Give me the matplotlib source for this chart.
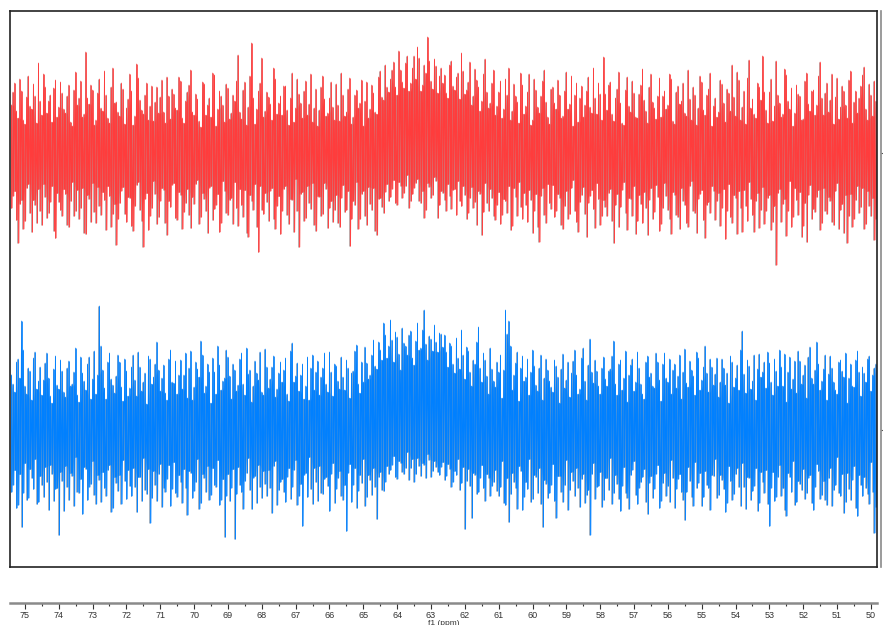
import numpy as np
import matplotlib
matplotlib.use("Agg")
import matplotlib.pyplot as plt
from matplotlib.ticker import MultipleLocator, FixedLocator, FuncFormatter

# chemical shift grid (ppm): bins every 0.1 ppm, with a second reading half a bin later
ppm_start, ppm_step, n_bins = 75.4, 0.1, 256

# red spectrum: upper / lower noise extents (intensity above / below its baseline)
# "_a" at 75.4, 75.3, ... ; "_b" at 75.35, 75.25, ...
red_hi_a = [48, 70, 35, 62, 29, 77, 44, 57, 90, 38, 66, 52, 31, 73, 46, 60,
            40, 68, 27, 81, 55, 36, 101, 49, 63, 33, 74, 42, 58, 30, 85, 51,
            37, 64, 45, 79, 28, 89, 53, 39, 70, 47, 32, 66, 56, 41, 76, 34,
            59, 43, 72, 30, 61, 83, 38, 54, 26, 69, 48, 36, 78, 44, 57, 31,
            65, 40, 52, 98, 34, 71, 46, 110, 29, 62, 95, 42, 56, 33, 74, 50,
            38, 67, 28, 80, 45, 59, 35, 72, 49, 31, 64, 43, 77, 37, 55, 46,
            69, 32, 58, 41, 75, 36, 63, 50, 27, 71, 44, 60, 39, 82, 53, 66,
            74, 91, 58, 83, 65, 97, 70, 97, 106, 62, 88, 116, 72, 94, 60, 85,
            78, 55, 92, 63, 80, 100, 59, 71, 48, 84, 66, 52, 94, 45, 70, 38,
            61, 35, 74, 85, 42, 57, 30, 68, 47, 79, 33, 63, 40, 72, 51, 29,
            66, 44, 58, 37, 81, 49, 27, 70, 55, 36, 62, 46, 85, 39, 59, 96,
            43, 71, 32, 64, 50, 28, 76, 41, 60, 35, 68, 53, 30, 79, 45, 57,
            36, 62, 48, 74, 29, 67, 52, 40, 83, 33, 58, 45, 71, 38, 64, 27,
            55, 41, 69, 31, 60, 88, 37, 73, 46, 29, 93, 54, 35, 66, 97, 43,
            61, 32, 92, 50, 39, 78, 44, 27, 68, 57, 34, 80, 42, 63, 48, 91,
            38, 70, 53, 29, 75, 46, 62, 35, 82, 51, 40, 67, 86, 33, 58, 72]
red_hi_b = [61, 42, 74, 33, 56, 47, 69, 30, 52, 79, 40, 58, 65, 36, 71, 44,
            57, 31, 63, 48, 72, 39, 55, 68, 28, 60, 45, 82, 35, 66, 50, 41,
            70, 29, 54, 62, 37, 75, 43, 58, 33, 67, 51, 40, 73, 30, 57, 64,
            45, 76, 35, 52, 68, 41, 59, 32, 71, 38, 55, 80, 27, 62, 48, 69,
            34, 58, 72, 41, 63, 28, 77, 55, 44, 70, 36, 61, 49, 85, 39, 57,
            67, 43, 55, 31, 74, 50, 62, 38, 79, 45, 27, 66, 54, 40, 71, 33,
            48, 80, 37, 64, 29, 58, 45, 73, 52, 35, 68, 41, 76, 56, 88, 61,
            83, 66, 102, 71, 90, 62, 85, 74, 95, 68, 80, 92, 64, 87, 77, 70,
            60, 88, 67, 76, 54, 82, 63, 91, 57, 73, 42, 79, 61, 50, 83, 47,
            72, 44, 58, 33, 69, 51, 80, 39, 61, 28, 74, 46, 57, 83, 36, 64,
            50, 73, 35, 62, 44, 77, 58, 31, 67, 48, 76, 40, 55, 70, 33, 59,
            68, 39, 55, 81, 30, 63, 47, 72, 36, 59, 84, 42, 66, 51, 34, 75,
            57, 44, 79, 32, 61, 49, 70, 37, 54, 66, 28, 77, 43, 58, 80, 47,
            36, 73, 50, 64, 42, 56, 81, 33, 62, 75, 45, 39, 70, 53, 61, 30,
            74, 47, 58, 36, 84, 52, 65, 40, 59, 33, 72, 49, 62, 38, 77, 55,
            60, 41, 79, 56, 34, 67, 48, 73, 30, 62, 55, 78, 44, 69, 37, 52]
red_lo_a = [55, 38, 90, 47, 68, 31, 79, 52, 36, 72, 44, 60, 33, 85, 49, 63,
            41, 74, 29, 58, 66, 35, 81, 46, 30, 70, 53, 39, 77, 43, 61, 92,
            50, 34, 69, 45, 78, 32, 57, 94, 40, 63, 28, 71, 48, 37, 82, 54,
            30, 67, 42, 59, 36, 75, 51, 27, 64, 46, 80, 33, 56, 41, 70, 38,
            62, 45, 29, 73, 52, 37, 84, 48, 31, 99, 57, 40, 68, 35, 76, 43,
            58, 33, 71, 47, 26, 94, 39, 65, 50, 30, 78, 44, 61, 36, 55, 69,
            42, 74, 32, 57, 93, 48, 29, 66, 38, 72, 51, 35, 82, 45, 60, 31,
            44, 27, 52, 33, 40, 22, 48, 35, 26, 50, 65, 30, 45, 24, 65, 38,
            47, 31, 56, 36, 28, 53, 42, 60, 34, 49, 38, 82, 30, 58, 45, 67,
            39, 62, 48, 33, 73, 44, 29, 66, 52, 37, 80, 41, 89, 35, 70, 50,
            32, 58, 45, 76, 38, 61, 27, 69, 49, 34, 84, 43, 56, 30, 72, 47,
            63, 36, 90, 41, 54, 29, 77, 46, 33, 68, 51, 39, 82, 35, 59, 44,
            71, 30, 57, 81, 42, 64, 35, 52, 74, 28, 60, 46, 37, 85, 49, 33,
            67, 40, 55, 86, 31, 70, 45, 38, 79, 53, 29, 62, 48, 75, 34, 58,
            42, 69, 112, 36, 51, 83, 28, 64, 47, 39, 73, 89, 32, 56, 44, 77,
            35, 61, 48, 72, 30, 57, 80, 90, 41, 66, 33, 54, 76, 38, 63, 87]
red_lo_b = [43, 67, 51, 76, 35, 60, 47, 70, 58, 31, 65, 49, 78, 40, 57, 36,
            72, 48, 63, 37, 55, 80, 42, 69, 59, 34, 62, 47, 33, 74, 51, 66,
            38, 61, 44, 73, 53, 29, 68, 46, 77, 55, 41, 64, 35, 70, 48, 32,
            65, 39, 76, 50, 62, 44, 31, 71, 40, 58, 35, 67, 52, 79, 28, 60,
            47, 71, 55, 36, 64, 80, 42, 57, 74, 33, 61, 49, 38, 66, 53, 81,
            36, 62, 46, 79, 58, 41, 68, 33, 56, 72, 43, 63, 30, 75, 48, 57,
            70, 45, 59, 38, 66, 52, 76, 41, 63, 34, 57, 78, 46, 54, 39, 48,
            36, 50, 29, 45, 33, 55, 41, 30, 48, 38, 57, 34, 42, 28, 52, 40,
            58, 43, 37, 62, 48, 33, 66, 45, 55, 72, 41, 59, 50, 36, 63, 52,
            71, 46, 60, 77, 35, 63, 54, 40, 69, 47, 58, 74, 43, 62, 31, 56,
            64, 41, 72, 53, 66, 35, 58, 79, 42, 61, 50, 37, 75, 46, 63, 54,
            40, 68, 52, 74, 37, 60, 45, 63, 81, 42, 70, 55, 47, 66, 32, 78,
            55, 43, 66, 39, 62, 76, 48, 70, 33, 58, 80, 41, 67, 52, 60, 38,
            48, 73, 36, 58, 64, 42, 81, 55, 37, 68, 46, 79, 40, 57, 71, 45,
            77, 53, 40, 69, 46, 58, 74, 35, 62, 84, 50, 42, 66, 59, 37, 70,
            58, 44, 69, 38, 76, 51, 42, 63, 74, 47, 60, 35, 71, 53, 45, 66]

# blue spectrum
blue_hi_a = [55, 38, 71, 109, 44, 62, 30, 78, 49, 35, 67, 52, 27, 74, 41, 59,
             33, 69, 46, 82, 28, 57, 40, 73, 51, 36, 124, 60, 31, 77, 45, 54,
             68, 29, 59, 42, 75, 34, 63, 48, 26, 71, 53, 88, 39, 65, 30, 80,
             47, 36, 70, 55, 32, 79, 43, 61, 89, 37, 66, 27, 58, 84, 40, 52,
             73, 31, 60, 45, 77, 35, 56, 28, 69, 50, 38, 81, 42, 63, 33, 57,
             48, 72, 29, 87, 54, 39, 66, 44, 30, 75, 58, 35, 62, 46, 78, 34,
             64, 41, 53, 70, 32, 59, 85, 37, 48, 67, 55, 90, 61, 80, 107, 72,
             110, 68, 93, 60, 87, 75, 99, 65, 107, 82, 120, 70, 91, 105, 78, 96,
             95, 63, 84, 57, 72, 100, 51, 79, 44, 66, 103, 48, 70, 36, 61, 43,
             58, 32, 120, 109, 40, 67, 29, 74, 53, 35, 80, 45, 62, 30, 71, 49,
             38, 64, 27, 76, 50, 33, 69, 55, 41, 82, 30, 91, 47, 59, 36, 73,
             44, 61, 89, 35, 70, 52, 28, 65, 39, 78, 46, 31, 74, 57, 42, 68,
             29, 77, 48, 36, 66, 54, 31, 81, 43, 60, 35, 72, 50, 84, 38, 63,
             56, 33, 71, 45, 27, 68, 52, 40, 99, 37, 64, 49, 30, 76, 58, 42,
             67, 35, 59, 80, 44, 28, 73, 51, 37, 69, 55, 32, 83, 46, 88, 40,
             61, 30, 74, 48, 36, 70, 53, 27, 66, 43, 79, 34, 57, 71, 39, 62]
blue_hi_b = [46, 68, 52, 80, 36, 59, 72, 41, 63, 50, 77, 34, 61, 45, 70, 38,
             62, 44, 58, 35, 73, 49, 66, 31, 79, 55, 84, 42, 68, 51, 37, 75,
             43, 71, 34, 63, 50, 78, 39, 57, 74, 46, 66, 60, 52, 37, 71, 48,
             69, 55, 41, 77, 62, 30, 68, 53, 75, 44, 58, 72, 36, 65, 49, 80,
             54, 66, 39, 71, 46, 82, 60, 44, 57, 78, 35, 63, 51, 74, 41, 68,
             60, 36, 79, 48, 67, 55, 31, 73, 62, 40, 69, 53, 77, 38, 58, 66,
             49, 73, 40, 62, 57, 79, 46, 68, 83, 51, 75, 64, 88, 70, 95, 84,
             90, 98, 76, 102, 84, 95, 72, 89, 80, 100, 86, 94, 79, 88, 97, 83,
             78, 87, 66, 92, 61, 75, 83, 58, 70, 88, 62, 77, 54, 82, 49, 68,
             75, 60, 96, 84, 55, 78, 62, 49, 71, 58, 64, 39, 75, 52, 60, 43,
             70, 53, 61, 42, 68, 57, 80, 36, 72, 49, 65, 58, 70, 44, 62, 51,
             59, 74, 46, 66, 40, 79, 55, 71, 48, 62, 36, 68, 53, 44, 77, 50,
             66, 52, 71, 60, 42, 75, 58, 47, 69, 54, 78, 40, 63, 57, 71, 45,
             72, 48, 62, 57, 74, 43, 65, 80, 56, 70, 41, 75, 61, 53, 68, 78,
             48, 71, 44, 63, 76, 58, 41, 69, 79, 46, 65, 73, 52, 60, 66, 49,
             75, 56, 62, 40, 68, 59, 77, 52, 44, 70, 58, 63, 48, 74, 55, 66]
blue_lo_a = [62, 40, 75, 97, 33, 68, 48, 29, 72, 55, 37, 80, 44, 59, 105, 51,
             36, 70, 46, 27, 63, 84, 39, 57, 31, 74, 50, 42, 66, 35, 78, 53,
             45, 30, 69, 56, 38, 82, 47, 28, 64, 93, 41, 71, 34, 58, 49, 76,
             32, 67, 52, 39, 85, 43, 61, 29, 73, 48, 36, 65, 55, 30, 70, 107,
             44, 58, 109, 37, 62, 51, 28, 79, 46, 35, 68, 54, 40, 83, 31, 60,
             49, 72, 38, 57, 30, 66, 96, 43, 27, 74, 52, 36, 64, 47, 81, 33,
             59, 41, 70, 101, 34, 55, 78, 45, 29, 67, 50, 38, 89, 42, 61, 36,
             40, 26, 49, 33, 44, 22, 38, 52, 28, 46, 35, 24, 47, 31, 42, 37,
             50, 34, 57, 41, 29, 53, 99, 39, 88, 45, 62, 35, 71, 48, 56, 40,
             66, 31, 75, 92, 43, 58, 36, 80, 52, 29, 69, 47, 38, 97, 54, 63,
             34, 88, 46, 72, 30, 60, 51, 38, 77, 44, 65, 105, 33, 57, 42, 70,
             48, 28, 63, 54, 81, 37, 68, 45, 31, 74, 52, 39, 84, 46, 59, 35,
             71, 43, 56, 30, 78, 49, 62, 90, 37, 67, 32, 53, 76, 41, 58, 45,
             29, 65, 50, 82, 36, 70, 44, 57, 33, 79, 48, 61, 38, 73, 52, 40,
             96, 42, 67, 35, 58, 86, 47, 31, 72, 54, 39, 63, 45, 80, 34, 69,
             51, 75, 38, 60, 27, 66, 83, 43, 70, 36, 86, 55, 47, 64, 32, 103]
blue_lo_b = [55, 78, 44, 63, 70, 39, 59, 74, 46, 67, 52, 35, 71, 58, 42, 81,
             57, 43, 76, 62, 49, 37, 70, 54, 65, 45, 72, 58, 40, 82, 47, 61,
             74, 51, 40, 66, 57, 47, 71, 60, 39, 68, 55, 44, 77, 62, 35, 59,
             63, 45, 73, 58, 41, 68, 52, 79, 44, 62, 70, 38, 57, 75, 49, 66,
             71, 39, 64, 55, 79, 43, 60, 48, 73, 57, 41, 66, 58, 36, 75, 52,
             62, 47, 69, 40, 75, 54, 45, 67, 59, 38, 71, 63, 49, 56, 44, 73,
             48, 66, 55, 43, 72, 38, 61, 53, 76, 45, 65, 57, 47, 60, 52, 44,
             35, 47, 31, 42, 38, 50, 29, 44, 36, 33, 48, 30, 41, 37, 45, 32,
             46, 39, 52, 45, 60, 37, 51, 56, 43, 64, 48, 58, 44, 66, 52, 61,
             57, 73, 48, 64, 52, 79, 41, 67, 59, 72, 45, 63, 74, 50, 68, 55,
             71, 46, 62, 55, 80, 42, 66, 58, 49, 73, 60, 44, 69, 56, 77, 48,
             60, 74, 45, 69, 56, 63, 79, 40, 65, 58, 47, 72, 53, 68, 44, 78,
             53, 66, 72, 48, 59, 44, 70, 62, 51, 76, 58, 43, 67, 55, 80, 46,
             68, 45, 59, 73, 51, 64, 38, 76, 57, 47, 70, 56, 81, 42, 63, 74,
             58, 71, 47, 66, 80, 43, 62, 75, 51, 60, 69, 48, 73, 57, 41, 65,
             70, 48, 76, 55, 63, 44, 72, 59, 50, 78, 45, 66, 58, 74, 62, 77]

red_offset = 414
blue_offset = 137
x_ticks_major = 1.0
x_ticks_minor = 0.5
x_label = "f1 (ppm)"

W, H = 883, 625
fig = plt.figure(figsize=(W / 100, H / 100), dpi=100)
plt.rcParams['font.family'] = ['Liberation Sans', 'DejaVu Sans']

xlim = (75.44, 49.82)

half = ppm_step / 2
ppm = np.empty(2 * n_bins)
ppm[0::2] = ppm_start - ppm_step * np.arange(n_bins)
ppm[1::2] = ppm[0::2] - half


def merge(a, b):
    out = np.empty(2 * n_bins)
    out[0::2] = a
    out[1::2] = b
    return out


def rolling_min3(v):
    p = np.concatenate([[v[0]], v, [v[-1]]])
    return np.minimum(np.minimum(p[:-2], p[1:-1]), p[2:])


def trace(hi, lo, off):
    n = hi.size
    x = np.empty(2 * n)
    y = np.empty(2 * n)
    x[0::2] = ppm
    x[1::2] = ppm - half / 2
    y[0::2] = off + hi
    y[1::2] = off - lo
    return x, y


ax = fig.add_axes([10 / W, (H - 567) / H, 867 / W, 556 / H])
ax.set_xlim(*xlim)
ax.set_ylim(0, 556)
for sp in ax.spines.values():
    sp.set_linewidth(1.2)
    sp.set_color("#222222")
ax.set_xticks([])
ax.set_yticks([])

shift = 0.025  # ppm, ~1 px shade offset
series = [(red_hi_a, red_hi_b, red_lo_a, red_lo_b, red_offset, "#ff3c3c", "#b49c9c"),
          (blue_hi_a, blue_hi_b, blue_lo_a, blue_lo_b, blue_offset, "#0080ff", "#90a4b8")]
for hia, hib, loa, lob, off, col, shade in series:
    hi = merge(hia, hib)
    lo = merge(loa, lob)
    x, y = trace(hi, lo, off)
    # gray fringe
    ax.vlines(ppm + shift, off - lo, off + hi, color=shade, lw=0.6)
    # solid core of the noise band
    ax.fill_between(ppm, off - rolling_min3(lo), off + rolling_min3(hi),
                    color=col, lw=0)
    # spikes
    ax.vlines(ppm, off - lo, off + hi, color=col, lw=0.6)
    ax.plot(x, y, color=col, lw=0.5)

# ppm scale below the frame
axx = fig.add_axes([10 / W, (H - 603) / H, 867 / W, 0.0001])
axx.set_xlim(*xlim)
axx.set_yticks([])
for s in ["top", "left", "right"]:
    axx.spines[s].set_visible(False)
axx.spines["bottom"].set_color("#8a8a8a")
axx.spines["bottom"].set_linewidth(1.8)
axx.xaxis.set_major_locator(MultipleLocator(x_ticks_major))
axx.xaxis.set_minor_locator(MultipleLocator(x_ticks_minor))
axx.tick_params(axis="x", which="major", direction="out", length=4, width=0.8,
                color="#333333", labelsize=6.5, labelcolor="#333333", pad=2)
axx.tick_params(axis="x", which="minor", direction="out", length=2, width=0.8,
                color="#333333")
axx.xaxis.set_major_formatter(FuncFormatter(lambda v, p: f"{v:.0f}"))
axx.set_xlabel(x_label, fontsize=6, color="#333333", labelpad=-0.5)

# offset axis on the right
axr = fig.add_axes([881 / W, (H - 567) / H, 0.0001, 556 / H])
axr.set_ylim(0, 556)
axr.set_xticks([])
for s in ["top", "bottom", "left"]:
    axr.spines[s].set_visible(False)
axr.spines["right"].set_color("#8a8a8a")
axr.spines["right"].set_linewidth(1.2)
axr.yaxis.tick_right()
axr.yaxis.set_major_locator(FixedLocator([red_offset, blue_offset]))
axr.tick_params(axis="y", direction="out", length=3, width=0.8, color="#555555",
                labelright=False)

fig.savefig("out.png", dpi=100)
